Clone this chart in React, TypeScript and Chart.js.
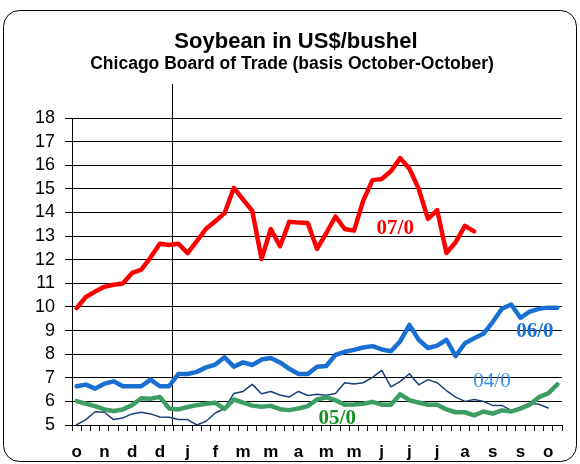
import React, { useEffect, useRef } from 'react';
import { Chart, registerables } from 'chart.js';

Chart.register(...registerables);

// ---- data -------------------------------------------------------------
const TICK_LABELS = ['o', 'n', 'd', 'd', 'j', 'f', 'm', 'm', 'a', 'm', 'm', 'j', 'j', 'j', 'a', 's', 's', 'o'];
const LABEL_EVERY = 3;

// 07/0 (red)
const SOY_07 = [
  9.95, 10.42, 10.65, 10.85, 10.94, 10.99, 11.44, 11.58, 12.1, 12.68, 12.62, 12.68, 12.28, 12.79, 13.31, 13.63,
  13.97, 15.04, 14.55, 14.07, 12.03, 13.3, 12.57, 13.61, 13.57, 13.55, 12.46, 13.12, 13.83, 13.3, 13.23, 14.5,
  15.37, 15.42, 15.75, 16.3, 15.85, 15.0, 13.73, 14.1, 12.28, 12.74, 13.43, 13.2,
];
// 06/0 (blue)
const SOY_06 = [
  6.64, 6.71, 6.54, 6.75, 6.85, 6.64, 6.64, 6.64, 6.92, 6.64, 6.64, 7.16, 7.16, 7.25, 7.44, 7.56,
  7.87, 7.47, 7.65, 7.54, 7.77, 7.84, 7.65, 7.38, 7.16, 7.16, 7.47, 7.5, 7.97, 8.1, 8.18, 8.28,
  8.34, 8.2, 8.12, 8.55, 9.24, 8.61, 8.26, 8.36, 8.61, 7.92, 8.46, 8.67, 8.86, 9.36, 9.92, 10.1,
  9.54, 9.8, 9.92, 9.97, 9.97,
];
// 04/0 (navy, thin)
const SOY_04 = [
  5.01, 5.23, 5.56, 5.54, 5.23, 5.3, 5.47, 5.54, 5.47, 5.34, 5.33, 5.23, 5.23, 5.0, 5.16, 5.51,
  5.7, 6.33, 6.42, 6.72, 6.32, 6.42, 6.27, 6.19, 6.42, 6.25, 6.3, 6.26, 6.33, 6.79, 6.74, 6.79,
  7.02, 7.31, 6.61, 6.85, 7.17, 6.7, 6.92, 6.79, 6.46, 6.18, 6.0, 6.08, 6.0, 5.83, 5.83, 5.62,
  5.75, 5.92, 5.88, 5.72,
];
// 05/0 (green)
const SOY_05 = [
  6.01, 5.9, 5.8, 5.66, 5.59, 5.66, 5.84, 6.13, 6.11, 6.19, 5.7, 5.66, 5.76, 5.84, 5.9, 5.94,
  5.68, 6.08, 5.95, 5.82, 5.77, 5.81, 5.67, 5.63, 5.7, 5.8, 6.08, 6.17, 6.05, 5.86, 5.87, 5.9,
  5.98, 5.86, 5.86, 6.3, 6.05, 5.95, 5.86, 5.86, 5.66, 5.54, 5.54, 5.41, 5.57, 5.48, 5.62, 5.57,
  5.69, 5.86, 6.18, 6.34, 6.72,
];

const SERIES_NAMES = ['07/0', '06/0', '04/0', '05/0'];
const Y_MIN = 5;
const Y_MAX = 18;
const TITLE = 'Soybean in US$/bushel';
const SUBTITLE = 'Chicago Board of Trade (basis October-October)';

const CATEGORIES = SOY_06.map((_, i) => (i % LABEL_EVERY === 0 ? TICK_LABELS[i / LABEL_EVERY] : ''));

// ---- styling --------------------------------------------------------------
const RED = '#ff0000';
const BLUE = '#1a6fd3';
const GREEN = '#3c9e64';
const NAVY = '#1c3f7a';
const SANS = '"Liberation Sans", Arial, sans-serif';
const SERIF = '"Liberation Serif", "Times New Roman", serif';

// year divider (in category units) and series-name anchors (category, value)
const DIVIDER_AT = 10.3;
const NAME_STYLE = [
  { cat: 34.46, val: 13.3, color: RED, weight: 'bold' },
  { cat: 49.56, val: 8.95, color: BLUE, weight: 'bold' },
  { cat: 44.93, val: 6.83, color: '#3d8ee8', weight: 'normal' },
  { cat: 28.19, val: 5.26, color: '#16901c', weight: 'bold' },
];

const decorPlugin = {
  id: 'decor',
  beforeDraw(chart: any) {
    const ctx = chart.ctx;
    ctx.save();
    ctx.fillStyle = '#ffffff';
    ctx.fillRect(0, 0, chart.width, chart.height);
    ctx.restore();
  },
  beforeDatasetsDraw(chart: any) {
    const ctx = chart.ctx;
    const x = Math.round(chart.scales.x.getPixelForValue(DIVIDER_AT)) + 0.5;
    ctx.save();
    ctx.strokeStyle = '#000';
    ctx.lineWidth = 1;
    ctx.beginPath();
    ctx.moveTo(x, chart.chartArea.top - 34);
    ctx.lineTo(x, chart.chartArea.bottom);
    ctx.stroke();
    ctx.restore();
  },
  afterDraw(chart: any) {
    const ctx = chart.ctx;
    const xs = chart.scales.x;
    const ys = chart.scales.y;
    ctx.save();
    // series names
    ctx.textAlign = 'center';
    ctx.textBaseline = 'middle';
    NAME_STYLE.forEach((s, i) => {
      ctx.font = `${s.weight} 21px ${SERIF}`;
      ctx.fillStyle = s.color;
      ctx.fillText(SERIES_NAMES[i], xs.getPixelForValue(s.cat), ys.getPixelForValue(s.val));
    });
    // titles
    ctx.fillStyle = '#000';
    ctx.textBaseline = 'alphabetic';
    ctx.font = `bold 22px ${SANS}`;
    ctx.fillText(TITLE, 296, 48);
    ctx.font = `bold 17.5px ${SANS}`;
    ctx.fillText(SUBTITLE, 292, 69);
    // frame
    ctx.strokeStyle = '#000';
    ctx.lineWidth = 1;
    ctx.beginPath();
    (ctx as any).roundRect(3.5, 10.5, 573, 451, 16);
    ctx.stroke();
    ctx.restore();
  },
};

export default function App() {
  const ref = useRef<HTMLCanvasElement | null>(null);

  useEffect(() => {
    if (!ref.current) return;
    const line = (data: number[], color: string, width: number) => ({
      data,
      borderColor: color,
      backgroundColor: color,
      borderWidth: width,
      pointRadius: 0,
      tension: 0,
      fill: false,
      borderJoinStyle: 'round' as const,
      borderCapStyle: 'round' as const,
    });
    const chart = new Chart(ref.current, {
      type: 'line',
      data: {
        labels: CATEGORIES,
        datasets: [
          { label: SERIES_NAMES[0], ...line(SOY_07, RED, 4.5) },
          { label: SERIES_NAMES[1], ...line(SOY_06, BLUE, 4.5) },
          { label: SERIES_NAMES[3], ...line(SOY_05, GREEN, 4.5) },
          { label: SERIES_NAMES[2], ...line(SOY_04, NAVY, 1.5) },
        ],
      },
      options: {
        animation: false,
        responsive: false,
        devicePixelRatio: 1,
        layout: { padding: { top: 118, right: 18, left: 0, bottom: 0 } },
        plugins: { legend: { display: false }, tooltip: { enabled: false }, title: { display: false } },
        scales: {
          x: {
            type: 'category',
            offset: true,
            afterFit(scale: any) {
              scale.height = 39;
            },
            grid: { display: true, drawOnChartArea: false, drawTicks: true, tickLength: 6, color: '#000', offset: true },
            border: { display: true, color: '#000', width: 1 },
            ticks: {
              autoSkip: false,
              maxRotation: 0,
              minRotation: 0,
              padding: 11,
              color: '#000',
              font: { family: SANS, size: 17, weight: 'bold' },
              callback: (_v: any, i: number) => CATEGORIES[i],
            },
          },
          y: {
            min: Y_MIN,
            max: Y_MAX,
            afterFit(scale: any) {
              scale.width = 72;
            },
            grid: { color: '#000', lineWidth: 1, drawTicks: true, tickLength: 7 },
            border: { display: true, color: '#000', width: 1 },
            ticks: {
              stepSize: 1,
              autoSkip: false,
              padding: 10,
              color: '#000',
              font: { family: SANS, size: 18 },
            },
          },
        },
      },
      plugins: [decorPlugin],
    });
    return () => chart.destroy();
  }, []);

  return (
    <div style={{ position: 'absolute', left: 0, top: 0, width: 580, height: 464 }}>
      <canvas ref={ref} width={580} height={464} style={{ display: 'block' }} />
    </div>
  );
}
